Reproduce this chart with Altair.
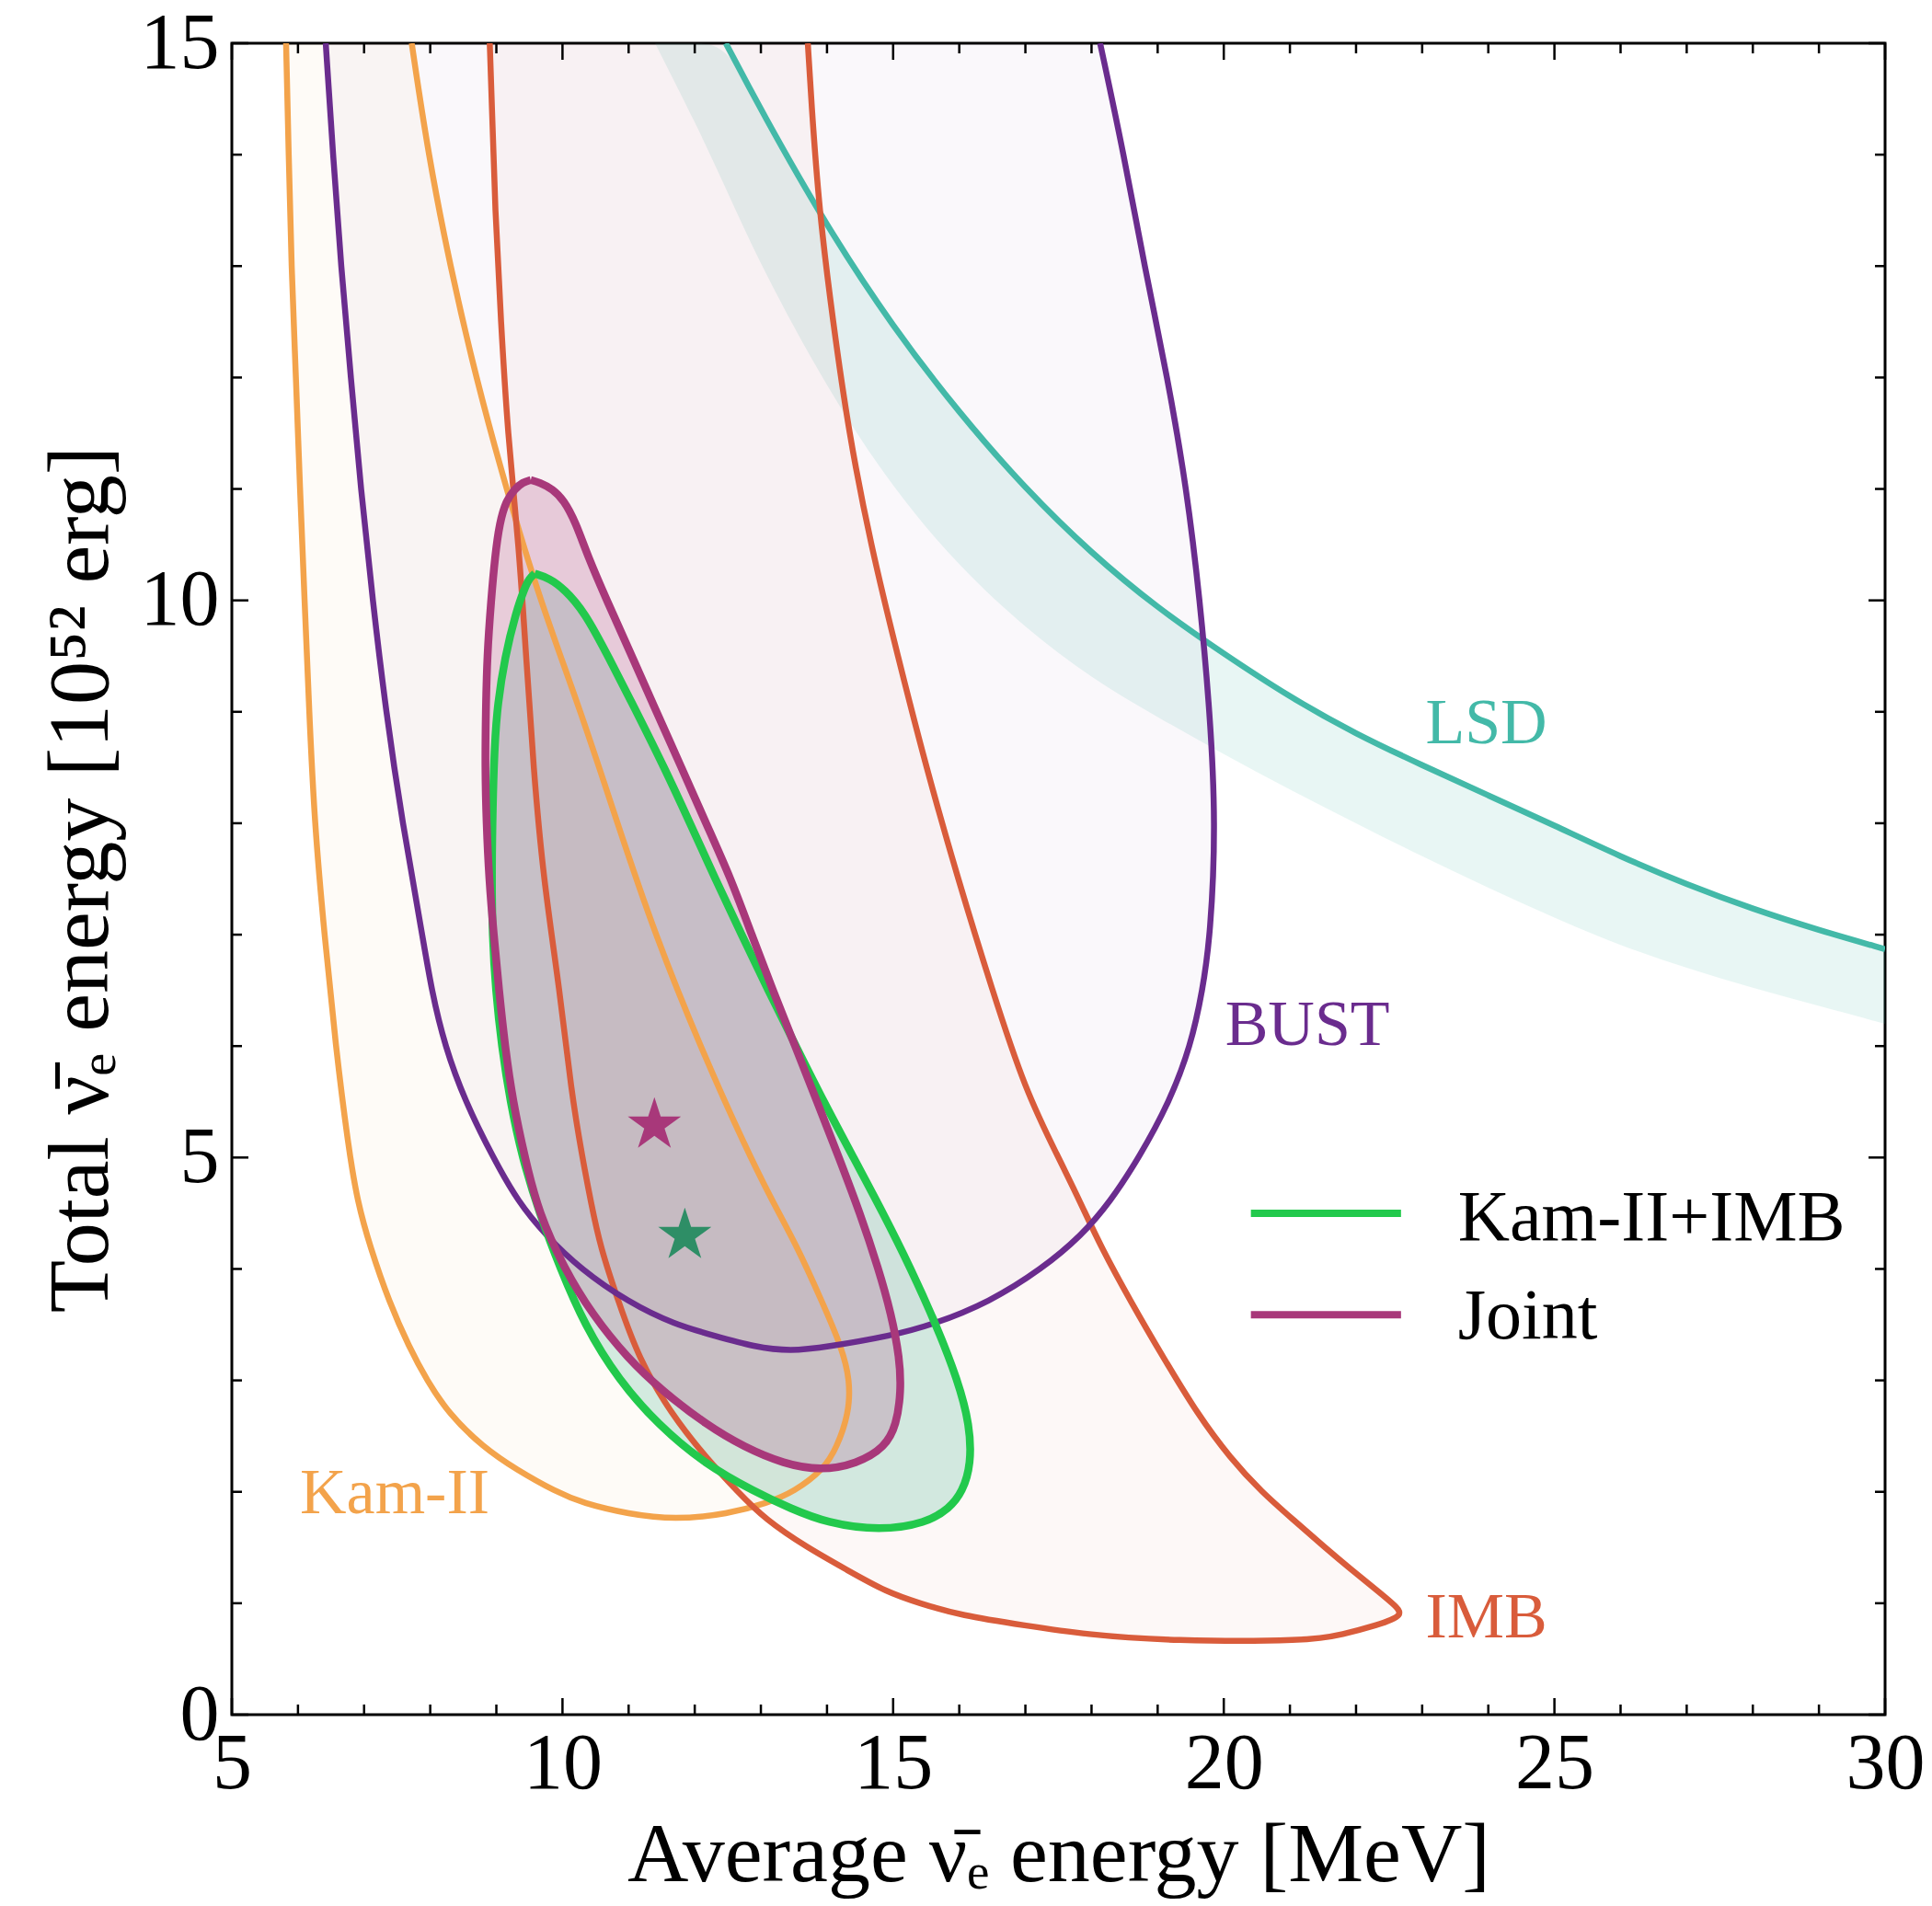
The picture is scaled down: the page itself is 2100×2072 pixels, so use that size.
import altair as alt
import pandas as pd

W, H = 1797, 1817
FONT = "Liberation Serif"

KAM, BUST, IMB, LSD = "#f3a34b", "#6a2c8e", "#d95c3b", "#43b9a8"
GREEN, JOINT, GSTAR = "#22c94c", "#a8387a", "#2e8e66"

# ---------------- contour readings: y, left x, right x ----------------
kam_y  = [1.75, 1.8, 1.9, 2.0, 2.2, 2.4, 2.7, 3.0, 3.3, 3.7, 4.2, 4.6, 5.1, 6.0, 7.0, 8.0, 9.0, 10.0, 11.0, 12.0, 13.0, 14.0, 15.0]
kam_xl = [11.7, 11.0, 10.3, 9.9, 9.3, 8.8, 8.28, 7.95, 7.68, 7.38, 7.09, 6.9, 6.76, 6.57, 6.40, 6.25, 6.17, 6.10, 6.03, 5.97, 5.90, 5.86, 5.82]
kam_xr = [11.7, 12.5, 13.1, 13.5, 13.95, 14.15, 14.33, 14.35, 14.22, 13.93, 13.55, 13.18, 12.76, 12.08, 11.40, 10.83, 10.28, 9.66, 9.15, 8.69, 8.30, 7.97, 7.72]

bust_y  = [3.26, 3.3, 3.4, 3.5, 3.7, 4.0, 4.3, 4.6, 5.0, 5.5, 6.0, 6.5, 7.0, 8.0, 9.0, 10.0, 11.0, 12.0, 13.0, 14.0, 15.0]
bust_xl = [13.45, 12.9, 12.3, 11.7, 11.0, 10.27, 9.75, 9.33, 8.95, 8.53, 8.22, 8.02, 7.88, 7.58, 7.33, 7.13, 6.95, 6.80, 6.65, 6.53, 6.42]
bust_xr = [13.45, 14.0, 14.97, 15.6, 16.45, 17.25, 17.85, 18.28, 18.72, 19.18, 19.50, 19.68, 19.80, 19.88, 19.79, 19.64, 19.44, 19.15, 18.80, 18.49, 18.13]

imb_y  = [0.66, 0.72, 0.8, 0.89, 1.0, 1.1, 1.3, 1.5, 1.75, 2.0, 2.3, 2.7, 3.2, 3.7, 4.2, 4.6, 5.0, 5.6, 6.5, 7.5, 8.5, 9.5, 10.5, 11.5, 12.5, 13.5, 14.5, 15.0]
imb_xl = [19.2, 17.9, 17.0, 16.02, 15.4, 14.9, 14.3, 13.7, 13.07, 12.65, 12.18, 11.64, 11.15, 10.85, 10.57, 10.43, 10.30, 10.13, 9.96, 9.71, 9.56, 9.45, 9.34, 9.17, 9.07, 8.98, 8.93, 8.90]
imb_xr = [21.3, 21.8, 22.3, 22.75, 22.55, 22.35, 21.93, 21.53, 21.05, 20.57, 20.1, 19.6, 19.09, 18.6, 18.14, 17.83, 17.5, 17.0, 16.5, 15.98, 15.5, 15.07, 14.66, 14.33, 14.09, 13.88, 13.76, 13.71]

joint_y  = [2.19, 2.25, 2.4, 2.6, 2.9, 3.2, 3.6, 4.0, 4.5, 5.0, 5.5, 6.0, 6.5, 7.0, 7.5, 8.0, 8.5, 9.0, 9.5, 10.0, 10.4, 10.7, 10.9, 11.0, 11.06, 11.08]
joint_xl = [13.9, 13.35, 12.75, 12.18, 11.52, 10.98, 10.44, 10.03, 9.64, 9.43, 9.25, 9.13, 9.04, 8.96, 8.89, 8.85, 8.83, 8.84, 8.86, 8.92, 8.98, 9.05, 9.15, 9.28, 9.4, 9.52]
joint_xr = [13.9, 14.45, 14.88, 15.05, 15.12, 15.10, 14.97, 14.78, 14.50, 14.18, 13.85, 13.52, 13.18, 12.86, 12.55, 12.17, 11.80, 11.42, 11.05, 10.67, 10.38, 10.2, 10.02, 9.85, 9.65, 9.52]

green_y  = [1.65, 1.72, 1.85, 2.0, 2.25, 2.6, 3.0, 3.5, 4.0, 4.5, 5.0, 5.5, 6.0, 6.5, 7.0, 7.5, 8.0, 8.5, 9.0, 9.5, 9.9, 10.1, 10.2, 10.24]
green_xl = [14.8, 14.0, 13.45, 12.91, 12.15, 11.45, 10.85, 10.33, 9.97, 9.65, 9.39, 9.21, 9.08, 8.99, 8.94, 8.93, 8.94, 8.96, 9.0, 9.13, 9.3, 9.42, 9.5, 9.58]
green_xr = [14.8, 15.5, 15.85, 16.05, 16.18, 16.16, 15.98, 15.65, 15.27, 14.85, 14.40, 13.95, 13.53, 13.11, 12.71, 12.31, 11.93, 11.54, 11.12, 10.69, 10.33, 10.03, 9.8, 9.58]

# LSD band: x, upper line, lower edge of the band
lsd_x   = [11.4, 12.0, 12.47, 13.0, 14.0, 15.0, 16.0, 17.0, 18.0, 19.0, 20.0, 21.0, 22.0, 23.0, 24.0, 25.0, 26.0, 27.0, 28.0, 29.0, 30.0]
lsd_top = [15.0, 15.0, 15.0, 14.4, 13.35, 12.45, 11.68, 11.0, 10.42, 9.93, 9.52, 9.13, 8.8, 8.52, 8.25, 7.98, 7.70, 7.45, 7.23, 7.04, 6.87]
lsd_bot = [15.0, 14.3, 13.7, 13.0, 11.9, 11.0, 10.3, 9.75, 9.3, 8.95, 8.62, 8.3, 8.0, 7.7, 7.42, 7.15, 6.9, 6.7, 6.52, 6.36, 6.2]

# best-fit stars
star_x = [11.39, 11.85]
star_y = [5.29, 4.30]
star_c = [JOINT, GSTAR]

# region labels
lab_text = ["Kam-II", "BUST", "IMB", "LSD"]
lab_x = [6.03, 20.02, 23.05, 23.05]
lab_y = [1.98, 6.18, 0.87, 8.89]
lab_c = [KAM, BUST, IMB, LSD]

# legend
leg_text = ["Kam-II+IMB", "Joint"]
leg_c = [GREEN, JOINT]
leg_x1 = [20.41, 20.41]
leg_x2 = [22.68, 22.68]
leg_y = [4.50, 3.59]
leg_tx = [23.54, 23.54]
leg_ty = [4.45, 3.57]

x_major = [5, 10, 15, 20, 25, 30]
x_minor = [v for v in range(6, 30) if v % 5]
y_major = [0, 5, 10, 15]
y_minor = [v for v in range(1, 15) if v % 5]

# ---------------- helpers ----------------
xscale = alt.Scale(domain=[5, 30], nice=False, zero=False)
yscale = alt.Scale(domain=[0, 15], nice=False, zero=False)
xaxis = alt.Axis(values=x_major, format="d", ticks=False, domain=False, grid=False,
                 labelFontSize=86, labelPadding=11, labelFlush=False, labelOverlap=False,
                 labelColor="black", labelFont=FONT,
                 title="Average ν̄ₑ energy [MeV]", titleFontSize=92, titleFontWeight="normal",
                 titleColor="black", titleFont=FONT, titleBaseline="alphabetic",
                 titleX=W / 2, titleY=180)
yaxis = alt.Axis(values=y_major, format="d", ticks=False, domain=False, grid=False,
                 labelFontSize=86, labelPadding=14, labelFlush=False, labelOverlap=False,
                 labelColor="black", labelFont=FONT,
                 title="Total ν̄ₑ energy [10⁵² erg]", titleFontSize=94, titleFontWeight="normal",
                 titleColor="black", titleFont=FONT, titleBaseline="alphabetic", titleAngle=270,
                 titleX=-136, titleY=H / 2)

CURVE = "basis"


def X(f):
    return alt.X(f, type="quantitative", scale=xscale, axis=xaxis)


def Y(f):
    return alt.Y(f, type="quantitative", scale=yscale, axis=yaxis)


def area_df(ys, xl, xr):
    return pd.DataFrame({"y": ys, "xl": xl, "xr": xr})


def outline_df(ys, xl, xr):
    px, py = [], []
    for i in range(len(ys) - 1, -1, -1):
        px.append(xl[i]); py.append(ys[i])
    start = 1 if xl[0] == xr[0] else 0
    for i in range(start, len(ys)):
        px.append(xr[i]); py.append(ys[i])
    return pd.DataFrame({"x": px, "y": py, "o": list(range(len(px)))})


def hfill(df, color, op):
    return alt.Chart(df).mark_area(orient="horizontal", color=color, opacity=op,
                                   interpolate=CURVE, clip=True).encode(
        y=Y("y"), x=X("xl"), x2="xr")


def oline(df, color, sw):
    return alt.Chart(df).mark_line(color=color, strokeWidth=sw, interpolate=CURVE,
                                   clip=True).encode(x=X("x"), y=Y("y"), order=alt.Order("o:Q"))


layers = []

lsd_df = pd.DataFrame({"x": lsd_x, "top": lsd_top, "bot": lsd_bot})
layers.append(alt.Chart(lsd_df).mark_area(color=LSD, opacity=0.12, interpolate=CURVE,
                                          clip=True).encode(x=X("x"), y=Y("top"), y2="bot"))
layers.append(hfill(area_df(kam_y, kam_xl, kam_xr), KAM, 0.045))
layers.append(hfill(area_df(bust_y, bust_xl, bust_xr), BUST, 0.035))
layers.append(hfill(area_df(imb_y, imb_xl, imb_xr), IMB, 0.045))
layers.append(hfill(area_df(green_y, green_xl, green_xr), "#55b996", 0.25))
layers.append(hfill(area_df(joint_y, joint_xl, joint_xr), JOINT, 0.21))

layers.append(alt.Chart(lsd_df).transform_filter("datum.x >= 12.47").mark_line(
    color=LSD, strokeWidth=6.5, interpolate=CURVE, clip=True).encode(x=X("x"), y=Y("top")))
layers.append(oline(outline_df(kam_y, kam_xl, kam_xr), KAM, 6.5))
layers.append(oline(outline_df(imb_y, imb_xl, imb_xr), IMB, 6.5))
layers.append(oline(outline_df(bust_y, bust_xl, bust_xr), BUST, 6.5))
layers.append(oline(outline_df(green_y, green_xl, green_xr), GREEN, 8.5))
layers.append(oline(outline_df(joint_y, joint_xl, joint_xr), JOINT, 8.5))

STAR = ("M0,-1 L0.2245,-0.309 L0.951,-0.309 L0.363,0.118 L0.588,0.809 L0,0.382 "
        "L-0.588,0.809 L-0.363,0.118 L-0.951,-0.309 L-0.2245,-0.309 Z")
star_df = pd.DataFrame({"x": star_x, "y": star_y, "c": star_c})
layers.append(alt.Chart(star_df).mark_point(shape=STAR, filled=True, size=3700, opacity=1,
                                            strokeWidth=0).encode(
    x=X("x"), y=Y("y"), color=alt.Color("c:N", scale=None)))

lab_df = pd.DataFrame({"x": lab_x, "y": lab_y, "t": lab_text, "c": lab_c})
layers.append(alt.Chart(lab_df).mark_text(align="left", baseline="middle", fontSize=70,
                                          font=FONT).encode(
    x=X("x"), y=Y("y"), text="t:N", color=alt.Color("c:N", scale=None)))

leg_df = pd.DataFrame({"x1": leg_x1, "x2": leg_x2, "y": leg_y, "tx": leg_tx, "ty": leg_ty,
                       "t": leg_text, "c": leg_c})
layers.append(alt.Chart(leg_df).mark_rule(strokeWidth=8).encode(
    x=X("x1"), x2="x2", y=Y("y"), color=alt.Color("c:N", scale=None)))
layers.append(alt.Chart(leg_df).mark_text(align="left", baseline="middle", fontSize=78,
                                          font=FONT, color="black").encode(
    x=X("tx"), y=Y("ty"), text="t:N"))

# inward ticks on all four sides
MAJ, MIN = 18, 11
for vals, ln in ((x_major, MAJ), (x_minor, MIN)):
    d = pd.DataFrame({"v": vals})
    layers.append(alt.Chart(d).mark_rule(color="black", strokeWidth=2.5).encode(
        x=X("v"), y=alt.value(H), y2=alt.value(H - ln)))
    layers.append(alt.Chart(d).mark_rule(color="black", strokeWidth=2.5).encode(
        x=X("v"), y=alt.value(0), y2=alt.value(ln)))
for vals, ln in ((y_major, MAJ), (y_minor, MIN)):
    d = pd.DataFrame({"v": vals})
    layers.append(alt.Chart(d).mark_rule(color="black", strokeWidth=2.5).encode(
        y=Y("v"), x=alt.value(0), x2=alt.value(ln)))
    layers.append(alt.Chart(d).mark_rule(color="black", strokeWidth=2.5).encode(
        y=Y("v"), x=alt.value(W), x2=alt.value(W - ln)))

chart = alt.layer(*layers).properties(
    width=W, height=H,
    autosize=alt.AutoSizeParams(type="none"),
    padding={"left": 244, "top": 39, "right": 42, "bottom": 200},
    background="white",
).configure_view(stroke="black", strokeWidth=3)

chart.save("out.html", embed_options={"renderer": "svg", "actions": False})
